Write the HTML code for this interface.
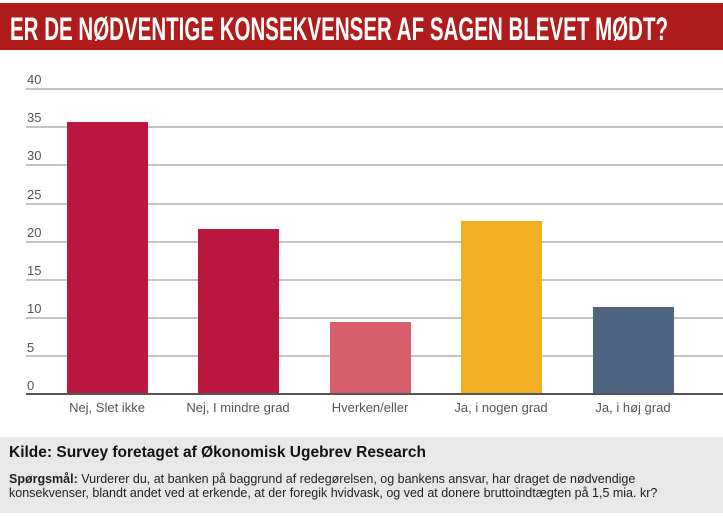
<!DOCTYPE html>
<html><head><meta charset="utf-8"><style>
body{margin:0;width:723px;height:516px;background:#fff;position:relative;overflow:hidden;font-family:"Liberation Sans",sans-serif}
.t{position:absolute;left:0;top:3px;width:723px;height:47px;background:#b01c1c}
.g{position:absolute;left:26px;width:697px;height:2px;background:#c8c2c2}
.l{position:absolute;left:27px;font-size:13px;color:#555}
.b{position:absolute;width:81px}
.c{position:absolute;top:400px;width:140px;text-align:center;font-size:13px;color:#555}
.f{position:absolute;left:0;top:437px;width:723px;height:76px;background:#e8e8e8}
</style></head><body>
<div class="t"><svg width="723" height="47" style="position:absolute;left:0;top:0"><text x="10" y="37" textLength="658" lengthAdjust="spacingAndGlyphs" fill="#fff" font-family="Liberation Sans, sans-serif" font-weight="bold" font-size="32">ER DE NØDVENTIGE KONSEKVENSER AF SAGEN BLEVET MØDT?</text></svg></div>
<div class="g" style="top:88px"></div><div class="l" style="top:72px">40</div>
<div class="g" style="top:126px"></div><div class="l" style="top:110px">35</div>
<div class="g" style="top:164px"></div><div class="l" style="top:148px">30</div>
<div class="g" style="top:203px"></div><div class="l" style="top:187px">25</div>
<div class="g" style="top:241px"></div><div class="l" style="top:225px">20</div>
<div class="g" style="top:279px"></div><div class="l" style="top:263px">15</div>
<div class="g" style="top:317px"></div><div class="l" style="top:301px">10</div>
<div class="g" style="top:355px"></div><div class="l" style="top:340px">5</div>
<div class="l" style="top:378px">0</div>
<div class="b" style="left:67px;top:122px;height:272px;background:#bb173f"></div>
<div class="b" style="left:198px;top:229px;height:165px;background:#bb173f"></div>
<div class="b" style="left:330px;top:322px;height:72px;background:#d75f6c"></div>
<div class="b" style="left:461px;top:221px;height:173px;background:#f2ae22"></div>
<div class="b" style="left:593px;top:307px;height:87px;background:#4e6480"></div>
<div class="g" style="top:393px;height:2px;background:#555"></div>
<div class="c" style="left:37px">Nej, Slet ikke</div>
<div class="c" style="left:168px">Nej, I mindre grad</div>
<div class="c" style="left:300px">Hverken/eller</div>
<div class="c" style="left:431px">Ja, i nogen grad</div>
<div class="c" style="left:563px">Ja, i høj grad</div>
<div class="f">
<div style="position:absolute;left:9px;top:7px;font-weight:bold;font-size:15.5px;color:#111">Kilde: Survey foretaget af Økonomisk Ugebrev Research</div>
<div style="position:absolute;left:9px;top:35px;white-space:nowrap;font-size:12.5px;line-height:14px;color:#222"><b>Spørgsmål:</b> Vurderer du, at banken på baggrund af redegørelsen, og bankens ansvar, har draget de nødvendige<br>konsekvenser, blandt andet ved at erkende, at der foregik hvidvask, og ved at donere bruttoindtægten på 1,5 mia. kr?</div>
</div>
</body></html>
